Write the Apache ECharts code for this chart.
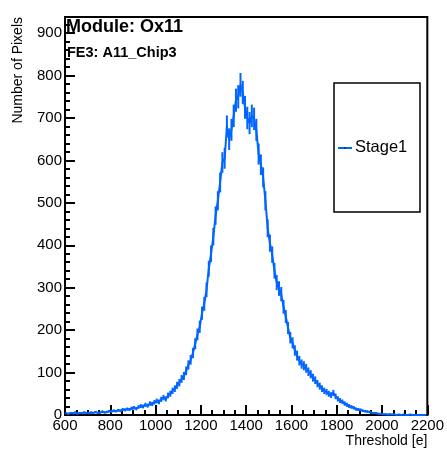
<!DOCTYPE html>
<html><head><meta charset="utf-8">
<script src="https://cdn.jsdelivr.net/npm/echarts@6/dist/echarts.min.js"></script>
<style>html,body{margin:0;padding:0;background:#fff}#c{width:447px;height:456px}</style>
</head><body><div id="c"></div>
<script>
// Bin centres (bin width 10) and counts
const binStart = 600;
const binWidth = 10;
const counts = [
 4,3,5,4,6,3,5,4,6,5,
 4,6,5,7,5,6,8,6,7,9,
 8,10,9,11,10,13,12,14,13,16,
 17,15,19,21,20,24,22,27,26,30,
 33,31,37,41,38,46,50,57,62,70,
 76,85,92,104,118,130,146,168,190,208,
 240,262,295,345,380,420,470,505,548,595,
 605,680,650,672,705,742,750,778,760,725,
 700,688,705,698,672,615,590,560,505,440,
 405,378,340,312,298,285,255,232,205,182,
 170,152,140,128,120,116,110,102,96,88,
 82,74,68,62,57,54,50,47,52,44,
 38,34,31,27,24,21,19,17,14,13,
 12,10,9,8,7,5,5,4,3,3,
 2,2,1,2,1,1,0,1,0,1,
 0,0,1,0,0,0,0,0,0,0
];
const xTicks = [600,800,1000,1200,1400,1600,1800,2000,2200];
const yTicks = [0,100,200,300,400,500,600,700,800,900];
const seriesName = 'Stage1';
const titleMain = 'Module: Ox11';
const titleSub = 'FE3: A11_Chip3';

const binData = counts.map((v, i) => [binStart + binWidth * (i + 0.5), v]);
const blue = '#0066ff';

const chart = echarts.init(document.getElementById('c'), null, {renderer: 'canvas'});
const font = 'Liberation Sans, Arial, sans-serif';
chart.setOption({
  animation: false,
  grid: {left: 65, top: 17, right: 17, bottom: 41, show: true, borderColor: '#000', borderWidth: 2},
  xAxis: {
    type: 'value', min: 600, max: 2200, interval: 200,
    name: 'Threshold [e]', nameLocation: 'end', nameGap: 0,
    nameTextStyle: {fontFamily: font, fontSize: 14, color: '#000', align: 'right', verticalAlign: 'top', padding: [19, 0, 0, 0]},
    axisLine: {lineStyle: {color: '#000', width: 2}},
    axisTick: {inside: true, length: 10, lineStyle: {color: '#000', width: 2}},
    minorTick: {show: true, splitNumber: 4, length: 5, lineStyle: {color: '#000', width: 2}},
    axisLabel: {fontFamily: font, fontSize: 15, color: '#000', margin: 3,
      formatter: v => xTicks.includes(v) ? String(v) : ''},
    splitLine: {show: false}
  },
  yAxis: {
    type: 'value', min: 0, max: 938, interval: 100,
    name: 'Number of Pixels', nameLocation: 'end', nameRotate: 90, nameGap: 0,
    nameTextStyle: {fontFamily: font, fontSize: 14, color: '#000', align: 'right', verticalAlign: 'bottom', padding: [0, 0, 40, 0]},
    axisLine: {lineStyle: {color: '#000', width: 2}},
    axisTick: {inside: true, length: 10, lineStyle: {color: '#000', width: 2}},
    minorTick: {show: true, splitNumber: 5, length: 5, lineStyle: {color: '#000', width: 2}},
    axisLabel: {fontFamily: font, fontSize: 15, color: '#000', margin: 3,
      formatter: v => yTicks.includes(v) ? String(v) : ''},
    splitLine: {show: false}
  },
  series: [{
    type: 'line',
    name: seriesName,
    data: binData,
    showSymbol: false,
    lineStyle: {color: blue, width: 2},
    silent: true
  }, {
    type: 'custom',
    clip: true,
    data: binData,
    renderItem: function (params, api) {
      const c = api.value(0), v = api.value(1);
      const e = Math.sqrt(v);
      const top = api.coord([c, v + e]);
      const bot = api.coord([c, Math.max(0, v - e)]);
      return {type: 'line', shape: {x1: top[0], y1: top[1], x2: bot[0], y2: bot[1]},
        style: {stroke: blue, lineWidth: 2}};
    }
  }, {
    type: 'scatter', data: binData, symbolSize: 1.5,
    itemStyle: {color: '#1b2d66'}, silent: true
  }],
  graphic: [
    {type: 'text', left: 66, top: 18, style: {text: titleMain, fontFamily: font, fontWeight: 'bold', fontSize: 18, fill: '#000'}},
    {type: 'text', left: 67, top: 45, style: {text: titleSub, fontFamily: font, fontWeight: 'bold', fontSize: 14.5, fill: '#000'}},
    {type: 'rect', shape: {x: 334, y: 83, width: 86, height: 129}, style: {fill: '#fff', stroke: '#000', lineWidth: 1.5}},
    {type: 'line', shape: {x1: 338, y1: 148, x2: 352, y2: 148}, style: {stroke: blue, lineWidth: 2}},
    {type: 'circle', shape: {cx: 345, cy: 148, r: 1}, style: {fill: '#1b2d66'}},
    {type: 'text', left: 355, top: 139, style: {text: seriesName, fontFamily: font, fontSize: 16.5, fill: '#000'}}
  ]
});
</script></body></html>
